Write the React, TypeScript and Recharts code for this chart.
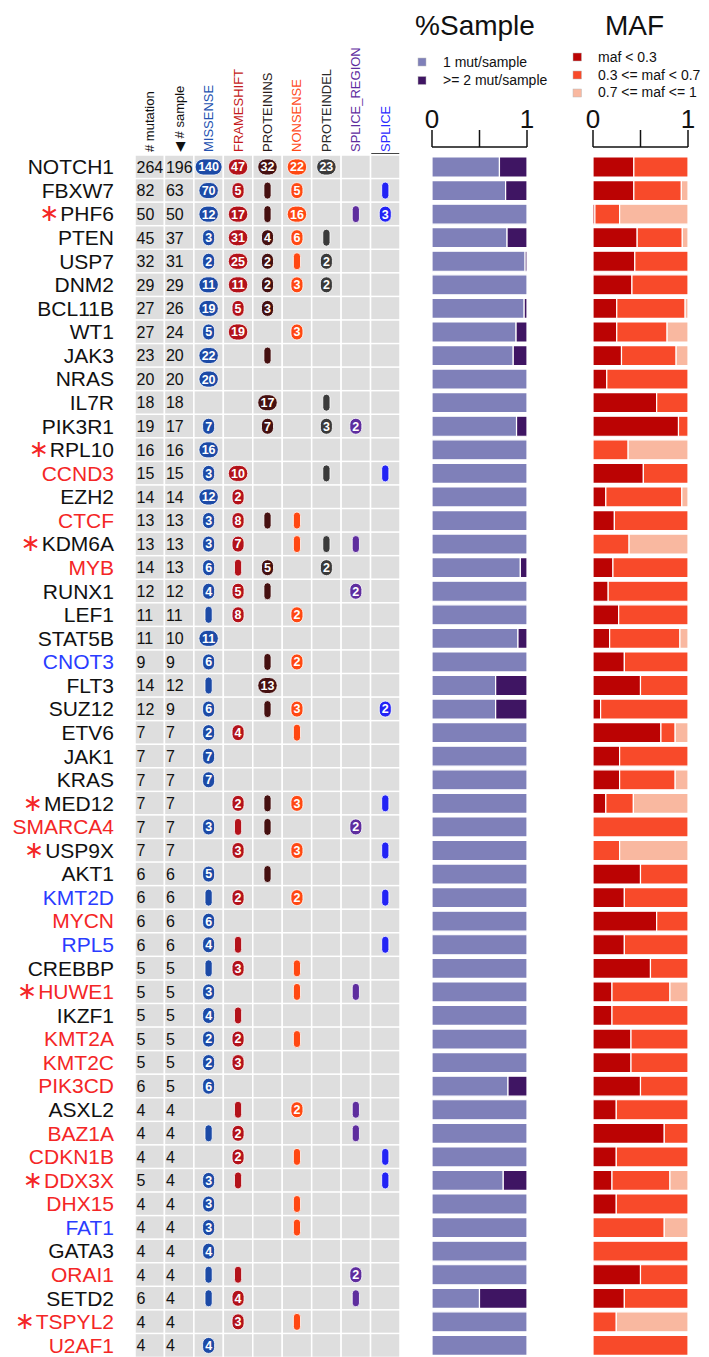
import React from "react";
import { BarChart, Bar, XAxis, YAxis } from "recharts";

const FONT = '"Liberation Sans", Arial, Helvetica, sans-serif';

// genes, top to bottom
const genes = [
  "NOTCH1", "FBXW7", "PHF6", "PTEN", "USP7", "DNM2", "BCL11B", "WT1", "JAK3", "NRAS",
  "IL7R", "PIK3R1", "RPL10", "CCND3", "EZH2", "CTCF", "KDM6A", "MYB", "RUNX1", "LEF1",
  "STAT5B", "CNOT3", "FLT3", "SUZ12", "ETV6", "JAK1", "KRAS", "MED12", "SMARCA4", "USP9X",
  "AKT1", "KMT2D", "MYCN", "RPL5", "CREBBP", "HUWE1", "IKZF1", "KMT2A", "KMT2C", "PIK3CD",
  "ASXL2", "BAZ1A", "CDKN1B", "DDX3X", "DHX15", "FAT1", "GATA3", "ORAI1", "SETD2", "TSPYL2",
  "U2AF1",
];

const redGenes = [
  "CCND3", "CTCF", "MYB", "SMARCA4", "MYCN", "HUWE1", "KMT2A", "KMT2C", "PIK3CD", "BAZ1A",
  "CDKN1B", "DDX3X", "DHX15", "ORAI1", "TSPYL2", "U2AF1",
];
const blueGenes = ["CNOT3", "KMT2D", "RPL5", "FAT1"];
const starredGenes = ["PHF6", "RPL10", "KDM6A", "MED12", "USP9X", "HUWE1", "DDX3X", "TSPYL2"];

const mutationCounts = [
  264, 82, 50, 45, 32, 29, 27, 27, 23, 20,
  18, 19, 16, 15, 14, 13, 13, 14, 12, 11,
  11, 9, 14, 12, 7, 7, 7, 7, 7, 7,
  6, 6, 6, 6, 5, 5, 5, 5, 5, 6,
  4, 4, 4, 5, 4, 4, 4, 4, 6, 4, 4,
];
const sampleCounts = [
  196, 63, 50, 37, 31, 29, 26, 24, 20, 20,
  18, 17, 16, 15, 14, 13, 13, 13, 12, 11,
  10, 9, 12, 9, 7, 7, 7, 7, 7, 7,
  6, 6, 6, 6, 5, 5, 5, 5, 5, 5,
  4, 4, 4, 4, 4, 4, 4, 4, 4, 4, 4,
];

// per mutation class counts (1 = plain capsule, 0 = none)
const missense = [
  140, 70, 12, 3, 2, 11, 19, 5, 22, 20,
  0, 7, 16, 3, 12, 3, 3, 6, 4, 1,
  11, 6, 1, 6, 2, 7, 7, 0, 3, 0,
  5, 1, 6, 4, 1, 3, 4, 2, 2, 6,
  0, 1, 0, 3, 3, 3, 4, 1, 1, 0, 4,
];
const frameshift = [
  47, 5, 17, 31, 25, 11, 5, 19, 0, 0,
  0, 0, 0, 10, 2, 8, 7, 1, 5, 8,
  0, 0, 0, 0, 4, 0, 0, 2, 1, 3,
  0, 2, 0, 1, 3, 0, 1, 2, 3, 0,
  1, 2, 2, 1, 0, 0, 0, 1, 4, 3, 0,
];
const proteinIns = [
  32, 1, 1, 4, 2, 2, 3, 0, 1, 0,
  17, 7, 0, 0, 0, 1, 0, 5, 1, 0,
  0, 1, 13, 1, 0, 0, 0, 1, 1, 0,
  1, 0, 0, 0, 0, 0, 0, 0, 0, 0,
  0, 0, 0, 0, 0, 0, 0, 0, 0, 0, 0,
];
const nonsense = [
  22, 5, 16, 6, 1, 3, 0, 3, 0, 0,
  0, 0, 0, 0, 0, 1, 1, 0, 0, 2,
  0, 2, 0, 3, 1, 0, 0, 3, 0, 3,
  0, 2, 0, 0, 1, 1, 0, 1, 0, 0,
  2, 0, 1, 0, 1, 1, 0, 0, 0, 1, 0,
];
const proteinDel = [
  23, 0, 0, 1, 2, 2, 0, 0, 0, 0,
  1, 3, 0, 1, 0, 0, 1, 2, 0, 0,
  0, 0, 0, 0, 0, 0, 0, 0, 0, 0,
  0, 0, 0, 0, 0, 0, 0, 0, 0, 0,
  0, 0, 0, 0, 0, 0, 0, 0, 0, 0, 0,
];
const spliceRegion = [
  0, 0, 1, 0, 0, 0, 0, 0, 0, 0,
  0, 2, 0, 0, 0, 0, 1, 0, 2, 0,
  0, 0, 0, 0, 0, 0, 0, 0, 2, 0,
  0, 0, 0, 0, 0, 1, 0, 0, 0, 0,
  1, 1, 0, 0, 0, 0, 0, 2, 1, 0, 0,
];
const splice = [
  0, 1, 3, 0, 0, 0, 0, 0, 0, 0,
  0, 0, 0, 1, 0, 0, 0, 0, 0, 0,
  0, 0, 0, 2, 0, 0, 0, 1, 0, 1,
  0, 1, 0, 1, 0, 0, 0, 0, 0, 0,
  0, 0, 1, 1, 0, 0, 0, 0, 0, 0, 0,
];

// %Sample: share of samples with 1 mutation vs >= 2 mutations
const oneMutShare = [
  0.71, 0.775, 1, 0.79, 0.98, 1, 0.97, 0.885, 0.855, 1,
  1, 0.89, 1, 1, 1, 1, 1, 0.93, 1, 1,
  0.905, 1, 0.67, 0.67, 1, 1, 1, 1, 1, 1,
  1, 1, 1, 1, 1, 1, 1, 1, 1, 0.8,
  1, 1, 1, 0.75, 1, 1, 1, 1, 0.5, 1, 1,
];
const multiMutShare = [
  0.29, 0.225, 0, 0.21, 0.02, 0, 0.03, 0.115, 0.145, 0,
  0, 0.11, 0, 0, 0, 0, 0, 0.07, 0, 0,
  0.095, 0, 0.33, 0.33, 0, 0, 0, 0, 0, 0,
  0, 0, 0, 0, 0, 0, 0, 0, 0, 0.2,
  0, 0, 0, 0.25, 0, 0, 0, 0, 0.5, 0, 0,
];

// MAF class shares
const mafLow = [
  0.43, 0.43, 0.02, 0.465, 0.44, 0.41, 0.25, 0.25, 0.3, 0.145,
  0.67, 0.9, 0, 0.53, 0.135, 0.225, 0, 0.21, 0.16, 0.27,
  0.175, 0.33, 0.5, 0.08, 0.715, 0.28, 0.28, 0.135, 0, 0,
  0.5, 0.33, 0.67, 0.33, 0.605, 0.2, 0.2, 0.4, 0.4, 0.5,
  0.245, 0.75, 0.245, 0.2, 0.245, 0, 0, 0.5, 0.33, 0, 0,
];
const mafMid = [
  0.57, 0.5, 0.26, 0.475, 0.56, 0.59, 0.72, 0.53, 0.575, 0.855,
  0.33, 0.1, 0.37, 0.47, 0.8, 0.775, 0.38, 0.79, 0.84, 0.73,
  0.74, 0.67, 0.5, 0.92, 0.15, 0.72, 0.585, 0.29, 1, 0.28,
  0.5, 0.67, 0.33, 0.67, 0.395, 0.61, 0.8, 0.6, 0.6, 0.5,
  0.755, 0.25, 0.755, 0.61, 0.755, 0.75, 1, 0.5, 0.67, 0.245, 1,
];
const mafHigh = [
  0, 0.07, 0.72, 0.06, 0, 0, 0.03, 0.22, 0.125, 0,
  0, 0, 0.63, 0, 0.065, 0, 0.62, 0, 0, 0,
  0.085, 0, 0, 0, 0.135, 0, 0.135, 0.575, 0, 0.72,
  0, 0, 0, 0, 0, 0.19, 0, 0, 0, 0,
  0, 0, 0, 0.19, 0, 0.25, 0, 0, 0, 0.755, 0,
];

const axisTicks = [0, 0.5, 1];

type Column = { key: string; label: string; color: string; kind: "num" | "pill" };

const columns: Column[] = [
  { key: "mutations", label: "# mutation", color: "#111", kind: "num" },
  { key: "samples", label: "\u25C0 # sample", color: "#111", kind: "num" },
  { key: "missense", label: "MISSENSE", color: "#1c4aa6", kind: "pill" },
  { key: "frameshift", label: "FRAMESHIFT", color: "#b3121a", kind: "pill" },
  { key: "proteinIns", label: "PROTEININS", color: "#451010", kind: "pill" },
  { key: "nonsense", label: "NONSENSE", color: "#ff4812", kind: "pill" },
  { key: "proteinDel", label: "PROTEINDEL", color: "#3a3a3a", kind: "pill" },
  { key: "spliceRegion", label: "SPLICE_REGION", color: "#5e2d9e", kind: "pill" },
  { key: "splice", label: "SPLICE", color: "#2323f5", kind: "pill" },
];
const headerColors = ["#111", "#111", "#2452b0", "#c41a20", "#2a1a1a", "#ff4a1a", "#2a2a2a", "#5e2d9e", "#2a2aff"];

const rows = genes.map((gene, i) => ({
  gene,
  mutations: mutationCounts[i],
  samples: sampleCounts[i],
  missense: missense[i],
  frameshift: frameshift[i],
  proteinIns: proteinIns[i],
  nonsense: nonsense[i],
  proteinDel: proteinDel[i],
  spliceRegion: spliceRegion[i],
  splice: splice[i],
  one: oneMutShare[i],
  multi: multiMutShare[i],
  low: mafLow[i],
  mid: mafMid[i],
  high: mafHigh[i],
}));

const geneColor = (g: string) =>
  redGenes.includes(g) ? "#f42626" : blueGenes.includes(g) ? "#2a3cff" : "#111";

const GeneTick = (props: any) => {
  const { x, y, payload } = props;
  const name = payload.value as string;
  const starred = starredGenes.includes(name);
  return (
    <text x={x} y={y + 7.5} textAnchor="end" fontSize={21} fontFamily={FONT}>
      {starred && (
        <tspan fill="#f42626" fontSize={24} fontFamily='"DejaVu Sans", sans-serif'>
          {"\u2217"}
        </tspan>
      )}
      <tspan fill={geneColor(name)} dx={starred ? 1 : undefined}>
        {name}
      </tspan>
    </text>
  );
};

const HeaderTick = (props: any) => {
  const { x, y, index } = props;
  const col = columns[index];
  if (!col) return null;
  return (
    <g>
      <text
        x={x + 4.5}
        y={y}
        transform={`rotate(-90, ${x + 4.5}, ${y})`}
        fontSize={13}
        fontFamily={FONT}
        fill={headerColors[index]}
      >
        {col.label}
      </text>
      {col.key === "splice" && <line x1={x - 14} x2={x + 14} y1={y + 1.5} y2={y + 1.5} stroke="#444" strokeWidth={1} />}
    </g>
  );
};

const Pill = ({ cx, cy, value, fill }: { cx: number; cy: number; value: number; fill: string }) => {
  if (!value) return null;
  if (value === 1) {
    return <rect x={cx - 3.6} y={cy - 8.5} width={7.2} height={17} rx={3.6} fill={fill} stroke="#fff" strokeWidth={0.8} />;
  }
  const digits = String(value).length;
  const w = digits === 1 ? 12 : digits === 2 ? 19.5 : 27;
  const h = 16;
  return (
    <g>
      <rect x={cx - w / 2} y={cy - h / 2} width={w} height={h} rx={Math.min(w, h) / 2} fill={fill} stroke="#fff" strokeWidth={0.8} />
      <text x={cx} y={cy + 4.4} textAnchor="middle" fill="#fff" fontSize={12.5} fontWeight="bold" fontFamily={FONT}>
        {value}
      </text>
    </g>
  );
};

const renderCell = (p: any, col: Column) => {
  const { x, y, width, height, payload } = p;
  const cx = x + width / 2;
  const cy = y + height / 2;
  const v = payload[col.key];
  return (
    <g>
      <rect x={x} y={y} width={width} height={height} fill="#dedede" stroke="#fff" strokeWidth={1.5} />
      {col.kind === "num" ? (
        <text x={x + 1.5} y={cy + 5.8} fontSize={16} fill="#111" fontFamily={FONT}>
          {v}
        </text>
      ) : (
        <Pill cx={cx} cy={cy} value={v} fill={col.color} />
      )}
    </g>
  );
};

const ScaleTick = (props: any) => {
  const { x, y, payload } = props;
  if (payload.value === 0.5) return null;
  return (
    <text x={x} y={y} textAnchor="middle" fontSize={26} fill="#111" fontFamily={FONT}>
      {payload.value}
    </text>
  );
};

const MutationGrid = () => (
  <BarChart
    width={405}
    height={1357}
    data={rows}
    layout="vertical"
    margin={{ top: 5, right: 5, bottom: 0, left: 0 }}
    barCategoryGap={0}
  >
    <XAxis
      type="number"
      orientation="top"
      domain={[0, columns.length]}
      ticks={columns.map((_, i) => i + 0.5)}
      height={150}
      axisLine={false}
      tickLine={false}
      tickSize={0}
      tickMargin={3}
      tick={<HeaderTick />}
      interval={0}
    />
    <YAxis
      type="category"
      dataKey="gene"
      width={135}
      axisLine={false}
      tickLine={false}
      tickSize={0}
      tickMargin={21}
      tick={<GeneTick />}
      interval={0}
    />
    {columns.map((col) => (
      <Bar
        key={col.key}
        dataKey={() => 1}
        stackId="grid"
        isAnimationActive={false}
        shape={(p: any) => renderCell(p, col)}
      />
    ))}
  </BarChart>
);

const ShareChart = ({ series }: { series: { key: string; fill: string }[] }) => (
  <BarChart
    width={136}
    height={1357}
    data={rows}
    layout="vertical"
    margin={{ top: 97, right: 21, bottom: 0, left: 20 }}
    barCategoryGap={2}
  >
    <XAxis
      type="number"
      orientation="top"
      domain={[0, 1]}
      allowDataOverflow
      ticks={axisTicks}
      height={50}
      axisLine={{ stroke: "#111", strokeWidth: 1.5 }}
      tickLine={{ stroke: "#111", strokeWidth: 1.5 }}
      tickSize={17}
      tickMargin={2}
      tick={<ScaleTick />}
      interval={0}
    />
    <YAxis type="category" dataKey="gene" hide padding={{ top: 8, bottom: 0 }} />
    {series.map((s) => (
      <Bar key={s.key} dataKey={s.key} stackId="s" fill={s.fill} stroke="#fff" strokeWidth={1.2} isAnimationActive={false} />
    ))}
  </BarChart>
);

const sampleSeries = [
  { key: "one", fill: "#7f80b9" },
  { key: "multi", fill: "#3f1563" },
];
const mafSeries = [
  { key: "low", fill: "#bb0303" },
  { key: "mid", fill: "#f84a2a" },
  { key: "high", fill: "#f9b8a0" },
];

const sampleLegend = ["1 mut/sample", ">= 2 mut/sample"];
const mafLegend = ["maf < 0.3", "0.3 <= maf < 0.7", "0.7 <= maf <= 1"];

export default function App() {
  return (
    <div
      style={{
        position: "absolute",
        left: 0,
        top: 0,
        width: 709,
        height: 1357,
        overflow: "hidden",
        background: "#fff",
        fontFamily: FONT,
      }}
    >
      <div style={{ position: "absolute", left: 0, top: 0 }}>
        <MutationGrid />
      </div>
      <div style={{ position: "absolute", left: 412, top: 0 }}>
        <ShareChart series={sampleSeries} />
      </div>
      <div style={{ position: "absolute", left: 573, top: 0 }}>
        <ShareChart series={mafSeries} />
      </div>
      <svg
        width={709}
        height={110}
        style={{ position: "absolute", left: 0, top: 0, pointerEvents: "none" }}
        fontFamily={FONT}
      >
        <text x={475} y={35} textAnchor="middle" fontSize={28} fill="#111">
          %Sample
        </text>
        <text x={634.5} y={35} textAnchor="middle" fontSize={28} fill="#111">
          MAF
        </text>
        {sampleLegend.map((label, i) => (
          <g key={label}>
            <rect x={418} y={58 + i * 18.5} width={8} height={8} fill={sampleSeries[i].fill} stroke="#bbb" strokeWidth={0.5} />
            <text x={443} y={67 + i * 18} fontSize={14} fill="#111">
              {label}
            </text>
          </g>
        ))}
        {mafLegend.map((label, i) => (
          <g key={label}>
            <rect x={573} y={53 + i * 18} width={8.5} height={8} fill={mafSeries[i].fill} stroke="#bbb" strokeWidth={0.5} />
            <text x={598} y={62 + i * 17.5} fontSize={14} fill="#111">
              {label}
            </text>
          </g>
        ))}
      </svg>
    </div>
  );
}
